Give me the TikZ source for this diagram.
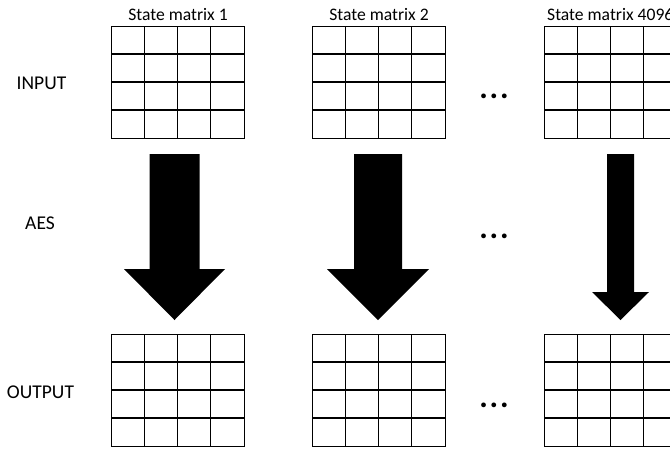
\documentclass[tikz,border=0pt]{standalone}
\usepackage{fontspec}
\setmainfont{Carlito}
\usetikzlibrary{positioning}

\begin{document}
\begin{tikzpicture}[
    x=1pt, y=-1pt,
    every node/.style={inner sep=0pt},
]

\tikzset{
    statebox/.style={draw, line width=1.2pt, minimum width=133pt,
                     minimum height=112pt, anchor=north west},
    cellline/.style={line width=1.2pt},
    rowlabel/.style={anchor=base, font=\fontsize{19.5}{22}\selectfont},
    title/.style={anchor=base, font=\fontsize{17.6}{20}\selectfont},
    more/.style={anchor=base, font=\fontsize{32}{34}\selectfont\bfseries},
    blockarrow/.style={fill=black},
}

% ================================================================
% GEOMETRY (pixels, y downwards)
%   grid columns      x = 111, 312, 544   (133 wide, 4 cells)
%   input row         y = 26 .. 138
%   output row        y = 334 .. 446
%   arrows            y = 154 .. 320
% ================================================================
\useasboundingbox (0,0) rectangle (670,448);
\clip (0,0) rectangle (670,448);

% ---------------------------------------------------------------- state matrices
\foreach \name/\x/\y in {in1/111/26, in2/312/26, in3/544/26,
                         out1/111/334, out2/312/334, out3/544/334} {
    \node[statebox] (\name) at (\x,\y) {};
    \foreach \i in {1,2,3} {
        \draw[cellline] (\name.north west) ++(\i*33.25,0) -- ++(0,112);
        \draw[cellline] (\name.north west) ++(0,\i*28) -- ++(133,0);
    }
}

% ---------------------------------------------------------------- titles
\node[title] (title1) at (178,20.7) {State matrix 1};
\node[title] (title2) at (379,20.7) {State matrix 2};
\node[title, anchor=base west] (title3) at (547,20.7) {State matrix 4096};

% ---------------------------------------------------------------- row labels
\node[rowlabel] (input)  at (41.5,89)  {INPUT};
\node[rowlabel] (aes)    at (40,229.3) {AES};
\node[rowlabel] (output) at (40.5,398.3) {OUTPUT};

% ---------------------------------------------------------------- AES arrows
% centre / shaft half width / head half width / head start
\foreach \x/\s/\h/\hy in {174.5/25/50.5/269, 378/24/51/269, 620.5/13.5/28.5/292} {
    \fill[blockarrow] (\x-\s,154) -- (\x+\s,154) -- (\x+\s,\hy) -- (\x+\h,\hy)
        -- (\x,320) -- (\x-\h,\hy) -- (\x-\s,\hy) -- cycle;
}

% ---------------------------------------------------------------- more matrices
\foreach \name/\y in {dotsin/98.5, dotsaes/238.5, dotsout/407.5} {
    \node[more] (\name) at (494,\y) {.\hspace{1.8pt}.\hspace{1.8pt}.};
}

\end{tikzpicture}
\end{document}
